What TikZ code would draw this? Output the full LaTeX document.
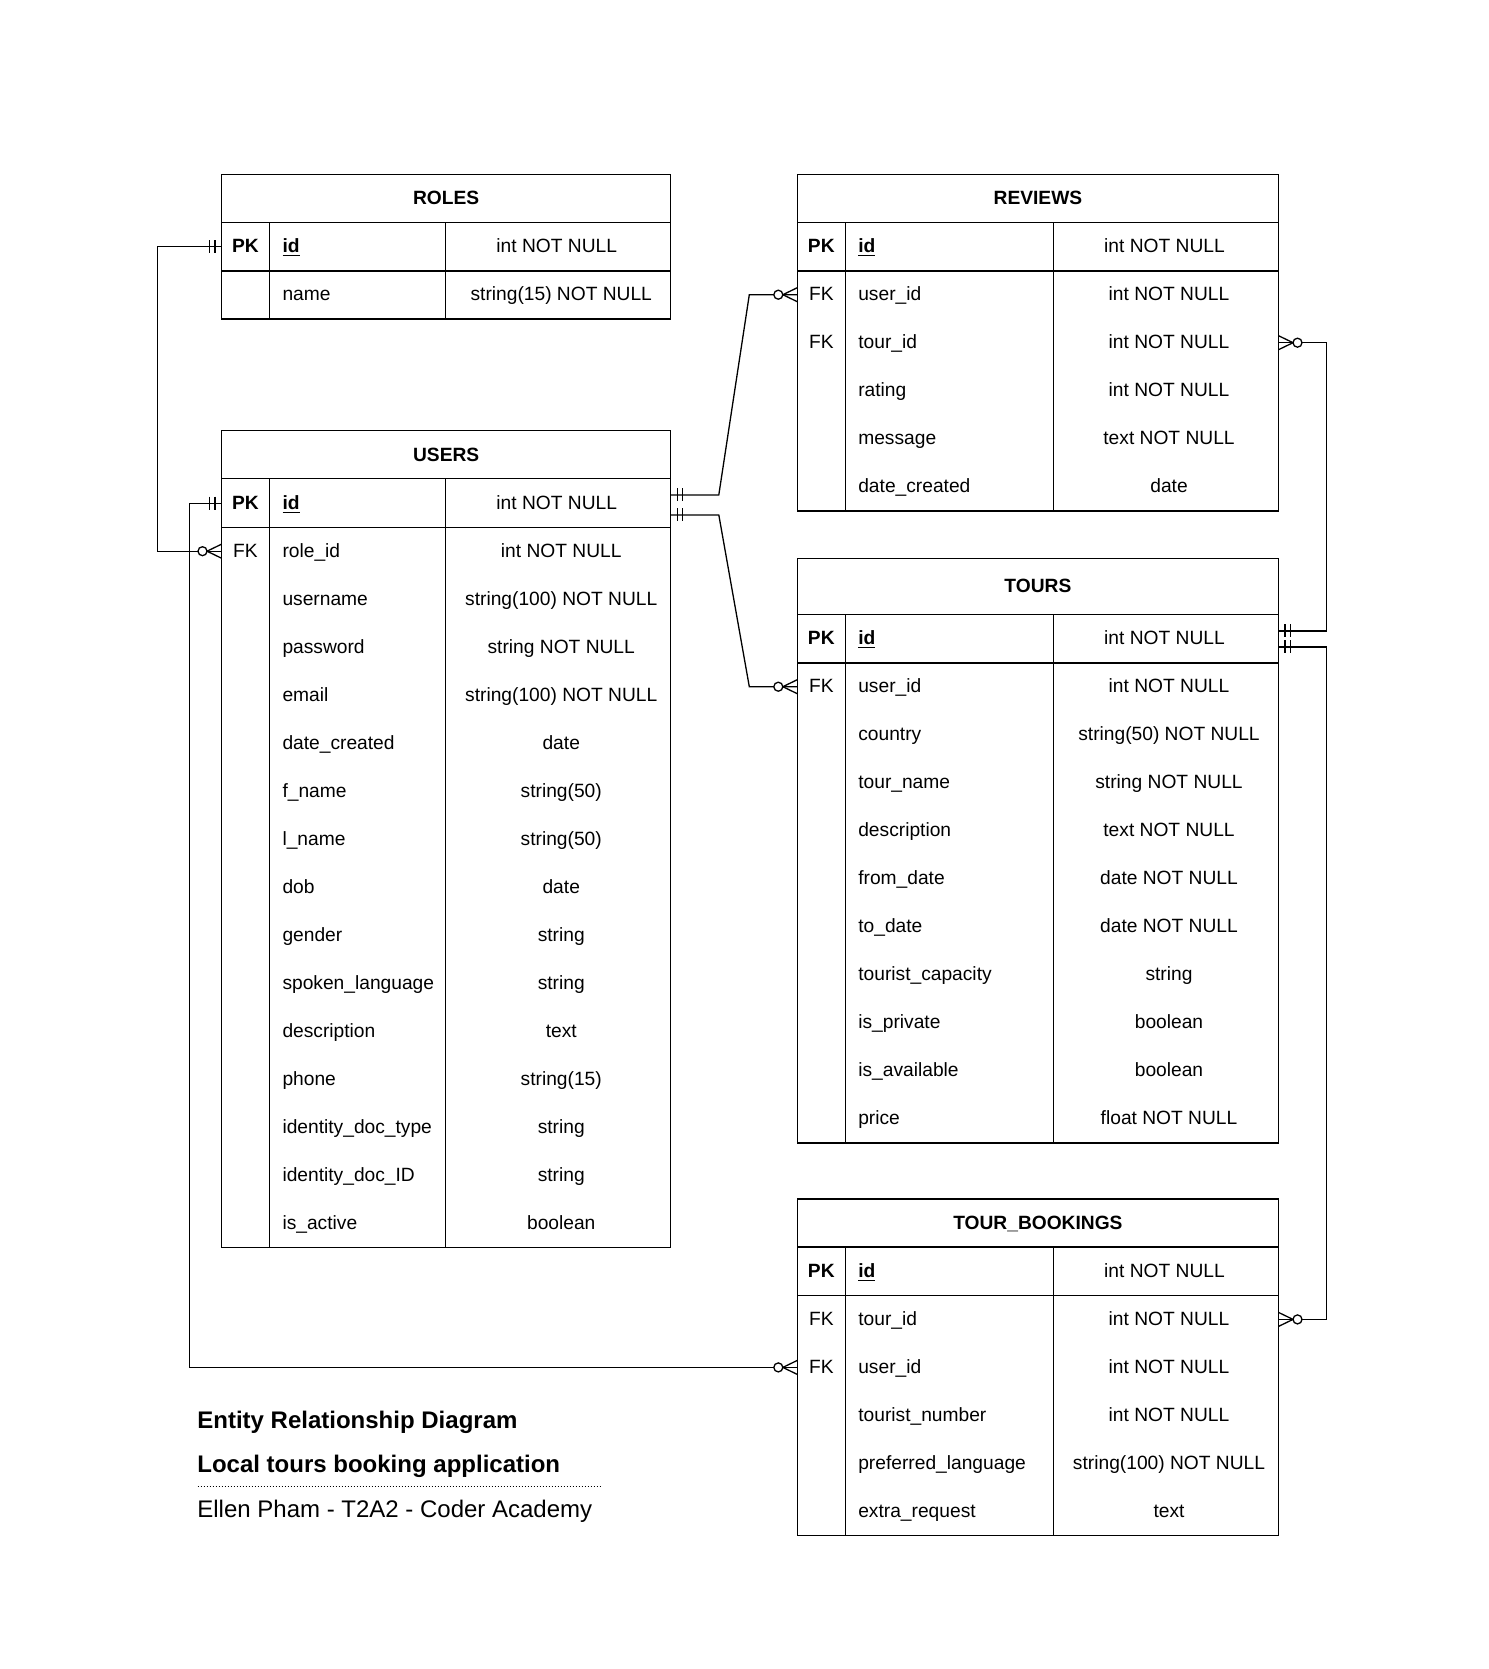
\documentclass[tikz,border=0pt]{standalone}
\usepackage{fontspec}
\setmainfont{Liberation Sans}
\usetikzlibrary{calc}
\def\upx{0.5pt}
\tikzset{
  tbl/.style={line width=0.65pt, draw=black},
  rowbox/.style={rectangle, inner sep=0pt, minimum height=48*\upx},
  hdrbox/.style={rectangle, inner sep=0pt},
  celltxt/.style={inner sep=0pt, font=\fontsize{9.6}{11}\selectfont},
  cellbold/.style={inner sep=0pt, font=\fontsize{9.6}{11}\selectfont\bfseries},
  notetxt/.style={inner sep=0pt, anchor=base west, font=\fontsize{12}{14}\selectfont},
  notebold/.style={inner sep=0pt, anchor=base west, font=\fontsize{12}{14}\selectfont\bfseries},
}
% #1 id, #2 left, #3 top, #4 width, #5 name col width, #6 header height, #7 title, #8 last row index, #9 rows
\newcommand\ertable[9]{%
  \node[hdrbox, minimum width=#4*\upx, minimum height=#6*\upx, anchor=north west] (#1) at (#2,#3) {};
  \node[cellbold, anchor=base] (#1-title) at ($(#1.center)+(0,6)$) {#7};
  \foreach \k/\f/\t [count=\i from 0] in {#9} {
    \node[rowbox, minimum width=#4*\upx, anchor=north west] (#1-\i) at (#2,{#3+#6+48*\i}) {};
    \ifnum\i=0
      \node[cellbold, anchor=base] (#1-\i-k) at ($(#1-\i.west)+(24,5.8)$) {\k};
      \node[cellbold, anchor=base west] (#1-\i-f) at ($(#1-\i.west)+(60.6,5.8)$) {\underline{\f}};
      \node[celltxt, anchor=base] (#1-\i-t) at ($(#1-\i.west)+({48+#5+(#4-48-#5)/2-1},5.8)$) {\t};
    \else
      \node[celltxt, anchor=base] (#1-\i-k) at ($(#1-\i.west)+(24,5.8)$) {\k};
      \node[celltxt, anchor=base west] (#1-\i-f) at ($(#1-\i.west)+(60.6,5.8)$) {\f};
      \node[celltxt, anchor=base] (#1-\i-t) at ($(#1-\i.west)+({48+#5+(#4-48-#5)/2+3.5},5.8)$) {\t};
    \fi
  }
  \draw[tbl] (#1.north west) rectangle (#1-#8.south east);
  \draw[tbl] (#1-0.north west) -- (#1-0.north east);
  \draw[tbl] (#1-0.south west) -- (#1-0.south east);
  \draw[tbl] ($(#1-0.north west)+(48,0)$) -- ($(#1-#8.south west)+(48,0)$);
  \draw[tbl] ($(#1-0.north west)+({48+#5},0)$) -- ($(#1-#8.south west)+({48+#5},0)$);
}
% mandatory one: bars on the line, line leaving to the left / right
\newcommand\barsL[1]{%
  \draw[tbl] (#1) ++(-6.5,-6.5) -- ++(0,13);
  \draw[tbl] (#1) ++(-12,-6.5) -- ++(0,13);}
\newcommand\barsR[1]{%
  \draw[tbl] (#1) ++(6.5,-6.5) -- ++(0,13);
  \draw[tbl] (#1) ++(12,-6.5) -- ++(0,13);}
% zero to many: line arriving from the left / right
\newcommand\zmanyL[1]{%
  \draw[tbl] ($(#1)+(-14.5,0)$) -- ($(#1)+(0,-7)$);
  \draw[tbl] ($(#1)+(-14.5,0)$) -- ($(#1)+(0,7)$);
  \draw[tbl, fill=white] ($(#1)+(-19,0)$) circle[radius=4.5];}
\newcommand\zmanyR[1]{%
  \draw[tbl] ($(#1)+(14.5,0)$) -- ($(#1)+(0,-7)$);
  \draw[tbl] ($(#1)+(14.5,0)$) -- ($(#1)+(0,7)$);
  \draw[tbl, fill=white] ($(#1)+(19,0)$) circle[radius=4.5];}
\begin{document}
\begin{tikzpicture}[x=0.5pt, y=-0.5pt]
\useasboundingbox (0,0) rectangle (1488,1669);

\ertable{roles}{221.5}{174.3}{448.5}{176}{48}{ROLES}{1}{%
  PK/id/int NOT NULL,
  {}/name/string(15) NOT NULL}

\ertable{users}{221.5}{430.8}{448.5}{176}{48}{USERS}{15}{%
  PK/id/int NOT NULL,
  FK/role\_id/int NOT NULL,
  {}/username/string(100) NOT NULL,
  {}/password/string NOT NULL,
  {}/email/string(100) NOT NULL,
  {}/date\_created/date,
  {}/f\_name/string(50),
  {}/l\_name/string(50),
  {}/dob/date,
  {}/gender/string,
  {}/spoken\_language/string,
  {}/description/text,
  {}/phone/string(15),
  {}/identity\_doc\_type/string,
  {}/identity\_doc\_ID/string,
  {}/is\_active/boolean}

\ertable{reviews}{797.3}{174.3}{480.4}{208}{48}{REVIEWS}{5}{%
  PK/id/int NOT NULL,
  FK/user\_id/int NOT NULL,
  FK/tour\_id/int NOT NULL,
  {}/rating/int NOT NULL,
  {}/message/text NOT NULL,
  {}/date\_created/date}

\ertable{tours}{797.3}{558.3}{480.4}{208}{56}{TOURS}{10}{%
  PK/id/int NOT NULL,
  FK/user\_id/int NOT NULL,
  {}/country/string(50) NOT NULL,
  {}/tour\_name/string NOT NULL,
  {}/description/text NOT NULL,
  {}/from\_date/date NOT NULL,
  {}/to\_date/date NOT NULL,
  {}/tourist\_capacity/string,
  {}/is\_private/boolean,
  {}/is\_available/boolean,
  {}/price/float NOT NULL}

\ertable{tb}{797.3}{1199}{480.4}{208}{48}{TOUR\_BOOKINGS}{5}{%
  PK/id/int NOT NULL,
  FK/tour\_id/int NOT NULL,
  FK/user\_id/int NOT NULL,
  {}/tourist\_number/int NOT NULL,
  {}/preferred\_language/string(100) NOT NULL,
  {}/extra\_request/text}

% connector end points
\coordinate (uUp) at ($(users-0.east)+(0,-8.3)$);
\coordinate (uDn) at ($(users-0.east)+(0,11.7)$);
\coordinate (tUp) at ($(tours-0.east)+(0,-7.8)$);
\coordinate (tDn) at ($(tours-0.east)+(0,8.2)$);

% connectors
\draw[tbl] (roles-0.west) -- ++(-64.2,0) |- (users-1.west);
\draw[tbl] (users-0.west) -- ++(-31.8,0) |- (tb-2.west);
\draw[tbl] (uUp) -- ++(48,0) -- ($(reviews-1.west)+(-48,0)$) -- (reviews-1.west);
\draw[tbl] (uDn) -- ++(48,0) -- ($(tours-1.west)+(-48,0)$) -- (tours-1.west);
\draw[tbl] (tUp) -- ++(48,0) |- (reviews-2.east);
\draw[tbl] (tDn) -- ++(48,0) |- (tb-1.east);

% markers
\barsL{roles-0.west}
\zmanyL{users-1.west}
\barsL{users-0.west}
\zmanyL{tb-2.west}
\barsR{uUp}
\barsR{uDn}
\zmanyL{reviews-1.west}
\zmanyL{tours-1.west}
\barsR{tUp}
\barsR{tDn}
\zmanyR{reviews-2.east}
\zmanyR{tb-1.east}

% note
\node[notebold] (note1) at (197,1428.3) {Entity Relationship Diagram};
\node[notebold] (note2) at (197,1472.8) {Local tours booking application};
\coordinate (dotA) at (197.7,1486.7);
\draw[line width=0.5pt, dash pattern=on 0.5pt off 1pt] (dotA) -- ++(405,0);
\node[notetxt] (note3) at (197,1517.5) {Ellen Pham - T2A2 - Coder Academy};
\end{tikzpicture}
\end{document}
